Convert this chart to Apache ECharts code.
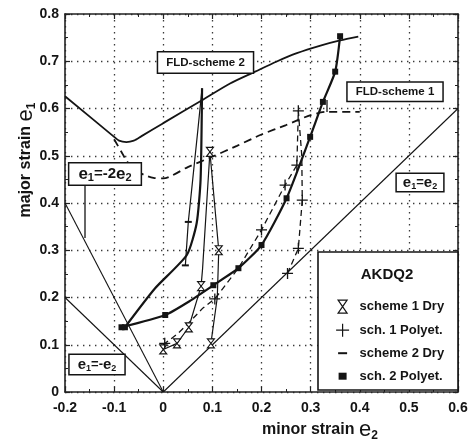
<!DOCTYPE html>
<html><head><meta charset="utf-8">
<script src="https://cdn.jsdelivr.net/npm/echarts@6/dist/echarts.min.js"></script>
<style>html,body{margin:0;padding:0;background:#fff}#c{width:471px;height:440px}</style>
</head><body><div id="c"></div>
<script>
// ---- data ----
const fld2X = [-0.2, -0.1, -0.09, -0.075, -0.06, -0.045, 0.0, 0.078, 0.136, 0.187, 0.23, 0.272, 0.32, 0.36, 0.397];
const fld2Y = [0.626, 0.54, 0.532, 0.529, 0.532, 0.541, 0.569, 0.617, 0.653, 0.678, 0.699, 0.717, 0.733, 0.744, 0.752];
const fld1X = [-0.1, -0.085, -0.075, -0.06, -0.04, -0.02, 0.0, 0.05, 0.1, 0.15, 0.2, 0.25, 0.3, 0.333, 0.4];
const fld1Y = [0.535, 0.508, 0.49, 0.472, 0.46, 0.453, 0.452, 0.476, 0.498, 0.521, 0.545, 0.565, 0.586, 0.593, 0.593];
const refNeg2X = [-0.2, 0], refNeg2Y = [0.4, 0];
const refNeg1X = [-0.2, 0], refNeg1Y = [0.2, 0];
const refPosX = [0, 0.6], refPosY = [0, 0.6];
// scheme 1 Dry
const s1DryX = [0, 0.028, 0.052, 0.077, 0.08, 0.095, 0.113, 0.11, 0.097];
const s1DryY = [0.09, 0.103, 0.137, 0.224, 0.26, 0.508, 0.30, 0.2, 0.103];
const s1DryMX = [0, 0.028, 0.052, 0.077, 0.095, 0.113, 0.097];
const s1DryMY = [0.09, 0.103, 0.137, 0.224, 0.508, 0.30, 0.103];
// sch. 1 Polyet.
const s1PolX = [0.0, 0.03, 0.06, 0.081, 0.105, 0.153, 0.2, 0.248, 0.272, 0.275, 0.282, 0.283, 0.275, 0.253];
const s1PolY = [0.1, 0.124, 0.155, 0.178, 0.197, 0.262, 0.343, 0.438, 0.48, 0.595, 0.5, 0.406, 0.304, 0.251];
const s1PolMX = [0.003, 0.105, 0.2, 0.248, 0.272, 0.275, 0.283, 0.275, 0.253];
const s1PolMY = [0.103, 0.197, 0.343, 0.438, 0.48, 0.595, 0.406, 0.304, 0.251];
// scheme 2 Dry
const s2DryX = [0.045, 0.051, 0.06, 0.07, 0.079];
const s2DryY = [0.268, 0.36, 0.45, 0.55, 0.643];
const s2DryMX = [0.045, 0.051];
const s2DryMY = [0.268, 0.36];
// sch. 2 Polyet.
const s2PolAX = [-0.085, 0.004, 0.05, 0.102, 0.153, 0.2, 0.251, 0.299, 0.325, 0.35, 0.36];
const s2PolAY = [0.137, 0.163, 0.19, 0.226, 0.262, 0.311, 0.41, 0.54, 0.614, 0.678, 0.753];
const s2PolBX = [-0.078, -0.017, 0.048, 0.068, 0.076, 0.079];
const s2PolBY = [0.137, 0.219, 0.29, 0.357, 0.45, 0.643];
const s2PolMX = [-0.085, -0.078, 0.004, 0.102, 0.153, 0.2, 0.251, 0.299, 0.325, 0.35, 0.36];
const s2PolMY = [0.137, 0.137, 0.163, 0.226, 0.262, 0.311, 0.41, 0.54, 0.614, 0.678, 0.753];
const legendNames = ['scheme 1 Dry', 'sch. 1 Polyet.', 'scheme 2 Dry', 'sch. 2 Polyet.'];

// ---- helpers ----
const zip = (xs, ys) => xs.map((x, i) => [x, ys[i]]);
const INK = '#141414';
const FONT = '"Liberation Sans", Arial, sans-serif';
const HOUR = 'path://M0,0H8L0,10H8Z';
const PLUS = 'path://M4.4,0H5.6V10H4.4Z M0,4.4H10V5.6H0Z';
const L_HOUR = 'path://M0,0M14,14M2.5,0.5H11.5L2.5,13.5H11.5Z';
const L_PLUS = 'path://M0,0M14,14M6.4,0.5H7.6V13.5H6.4Z M0.5,6.4H13.5V7.6H0.5Z';
const L_DASH = 'path://M0,0M14,14M2.5,6H11.5V8H2.5Z';
const L_SQ = 'path://M0,0M14,14M3,3.5H11V10.5H3Z';

const line = (name, xs, ys, w, type, smooth) => ({
  type: 'line', name, data: zip(xs, ys), symbol: 'none', smooth: smooth || false,
  lineStyle: { color: INK, width: w, type: type || 'solid' }, z: 3, silent: true
});
const pts = (name, xs, ys, symbol, size, fill, bw) => ({
  type: 'scatter', name, data: zip(xs, ys), symbol, symbolSize: size,
  itemStyle: { color: fill, borderColor: INK, borderWidth: bw, opacity: 1 }, z: 5, silent: true
});

const tickFmt = v => String(Math.round(v * 10) / 10);
const axisCommon = {
  type: 'value',
  axisLine: { show: true, onZero: false, lineStyle: { color: '#222', width: 1.6 } },
  axisTick: { show: true, inside: true, length: 5, lineStyle: { color: '#222', width: 1.2 } },
  minorTick: { show: true, splitNumber: 2, length: 3, lineStyle: { color: '#222', width: 1 } },
  minorSplitLine: { show: false }
};
const gridLine = { show: true, lineStyle: { color: '#3a3a3a', width: 1.3, type: [1.4, 4.6] } };
const labelStyle = { color: INK, fontFamily: FONT, fontWeight: 'bold', fontSize: 14, formatter: tickFmt };

const chart = echarts.init(document.getElementById('c'), null, { renderer: 'canvas' });
const boxText = (text, cx, cy, pad, rich, fs) => ({
  type: 'text', x: cx, y: cy, z: 100,
  style: {
    text, align: 'center', verticalAlign: 'middle', fill: INK,
    font: 'bold ' + (fs || 11.5) + 'px ' + FONT,
    backgroundColor: '#fff', borderColor: INK, borderWidth: 1.5, padding: pad, rich: rich || undefined
  }
});
const eqRich = (fs) => ({
  e: { fontSize: fs + 2, fontWeight: 'bold', fontFamily: FONT, fill: INK },
  s: { fontSize: fs - 4, fontWeight: 'bold', fontFamily: FONT, fill: INK, padding: [8, 0, 0, 0] },
  t: { fontSize: fs, fontWeight: 'bold', fontFamily: FONT, fill: INK }
});

chart.setOption({
  animation: false,
  backgroundColor: '#fff',
  grid: { left: 65, right: 13, top: 14, bottom: 48, containLabel: false },
  xAxis: [
    Object.assign({}, axisCommon, { min: -0.2, max: 0.6, interval: 0.1, position: 'bottom',
      axisLabel: Object.assign({ margin: 9 }, labelStyle), splitLine: gridLine }),
    Object.assign({}, axisCommon, { min: -0.2, max: 0.6, interval: 0.1, position: 'top',
      axisLabel: { show: false }, splitLine: { show: false } })
  ],
  yAxis: [
    Object.assign({}, axisCommon, { min: 0, max: 0.8, interval: 0.1, position: 'left',
      axisLabel: Object.assign({ margin: 6 }, labelStyle), splitLine: gridLine }),
    Object.assign({}, axisCommon, { min: 0, max: 0.8, interval: 0.1, position: 'right',
      axisLabel: { show: false }, splitLine: { show: false } })
  ],
  legend: {
    data: [
      { name: legendNames[0], icon: L_HOUR, itemStyle: { color: '#fff', borderColor: INK, borderWidth: 1.2 } },
      { name: legendNames[1], icon: L_PLUS, itemStyle: { color: INK, borderWidth: 0 } },
      { name: legendNames[2], icon: L_DASH, itemStyle: { color: INK, borderWidth: 0 } },
      { name: legendNames[3], icon: L_SQ, itemStyle: { color: INK, borderWidth: 0 } }
    ],
    orient: 'vertical', left: 330, top: 294, itemWidth: 14, itemHeight: 14, itemGap: 9,
    selectedMode: false, z: 60,
    textStyle: { color: INK, fontFamily: FONT, fontWeight: 'bold', fontSize: 13, padding: [0, 0, 0, 5] }
  },
  graphic: [
    { type: 'rect', z: 50, shape: { x: 318, y: 252, width: 140, height: 138 },
      style: { fill: '#fff', stroke: INK, lineWidth: 1.6 } },
    { type: 'text', z: 60, x: 387, y: 275,
      style: { text: 'AKDQ2', align: 'center', verticalAlign: 'middle', fill: INK, font: 'bold 15px ' + FONT } },
    boxText('FLD-scheme 2', 205.5, 62.5, [4, 8]),
    boxText('FLD-scheme 1', 395, 91.7, [3, 8]),
    boxText('{e|e}{s|1}{t|=-2}{e|e}{s|2}', 105, 174, [1, 9], eqRich(15)),
    boxText('{e|e}{s|1}{t|=-}{e|e}{s|2}', 97, 364.5, [1, 8], eqRich(13)),
    boxText('{e|e}{s|1}{t|=}{e|e}{s|2}', 420, 182.5, [0, 6], eqRich(13)),
    { type: 'line', z: 99, shape: { x1: 85, y1: 185, x2: 85, y2: 238 }, style: { stroke: INK, lineWidth: 1.3 } },
    { type: 'line', z: 99, shape: { x1: 327, y1: 100, x2: 327, y2: 112 }, style: { stroke: INK, lineWidth: 1.3 } },
    { type: 'text', z: 100, x: 262, y: 430,
      style: { text: '{a|minor strain }{e|e}{s|2}', align: 'left', verticalAlign: 'middle', fill: INK,
        rich: { a: { fontSize: 16, fontWeight: 'bold', fontFamily: FONT, fill: INK },
                e: { fontSize: 22, fontFamily: FONT, fill: INK },
                s: { fontSize: 12, fontWeight: 'bold', fontFamily: FONT, fill: INK, padding: [12, 0, 0, 0] } } } },
    { type: 'text', z: 100, x: 26, y: 160, rotation: Math.PI / 2,
      style: { text: '{a|major strain }{e|e}{s|1}', align: 'center', verticalAlign: 'middle', fill: INK,
        rich: { a: { fontSize: 16, fontWeight: 'bold', fontFamily: FONT, fill: INK },
                e: { fontSize: 22, fontFamily: FONT, fill: INK },
                s: { fontSize: 12, fontWeight: 'bold', fontFamily: FONT, fill: INK, padding: [12, 0, 0, 0] } } } }
  ],
  series: [
    pts(legendNames[0], s1DryMX, s1DryMY, HOUR, [7, 9], '#fff', 1.1),
    pts(legendNames[1], s1PolMX, s1PolMY, PLUS, [11, 11], INK, 0),
    pts(legendNames[2], s2DryMX, s2DryMY, 'rect', [7, 2], INK, 0),
    pts(legendNames[3], s2PolMX, s2PolMY, 'rect', [6, 6], INK, 0),
    line('ref1', refNeg2X, refNeg2Y, 1.1),
    line('ref2', refNeg1X, refNeg1Y, 1.1),
    line('ref3', refPosX, refPosY, 1.1),
    line('FLD-scheme 2', fld2X, fld2Y, 1.8, 'solid', 0.25),
    line('FLD-scheme 1', fld1X, fld1Y, 1.8, [8, 5], 0.25),
    line(legendNames[0], s1DryX, s1DryY, 1.2),
    line(legendNames[1], s1PolX, s1PolY, 1.3, [6, 4]),
    line(legendNames[2], s2DryX, s2DryY, 1.2),
    line(legendNames[3], s2PolAX, s2PolAY, 2.2, 'solid', 0.2),
    line(legendNames[3], s2PolBX, s2PolBY, 2.2, 'solid', 0.2)
  ]
});
</script></body></html>
